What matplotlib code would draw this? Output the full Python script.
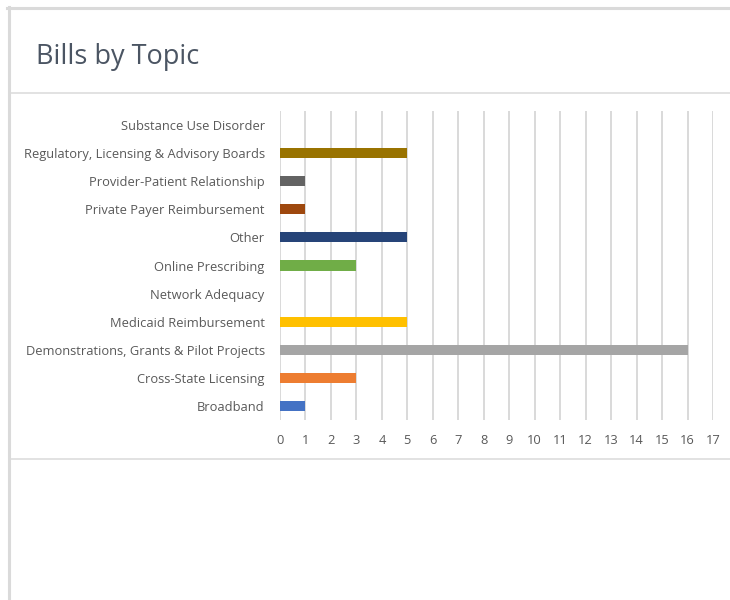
import matplotlib.pyplot as plt
from matplotlib.lines import Line2D

# data, bottom to top
topics = ['Broadband', 'Cross-State Licensing', 'Demonstrations, Grants & Pilot Projects',
          'Medicaid Reimbursement', 'Network Adequacy', 'Online Prescribing', 'Other',
          'Private Payer Reimbursement', 'Provider-Patient Relationship',
          'Regulatory, Licensing & Advisory Boards', 'Substance Use Disorder']
bills = [1, 3, 16, 5, 0, 3, 5, 1, 1, 5, 0]
colors = ['#4472C4', '#ED7D31', '#A5A5A5', '#FFC000', '#5B9BD5', '#70AD47', '#264478',
          '#9E480E', '#636363', '#997300', '#255E91']
xticks = list(range(0, 18))

plt.rcParams['font.family'] = ['Open Sans', 'DejaVu Sans']

fig = plt.figure(figsize=(7.3, 6), dpi=100)
fig.patch.set_facecolor('white')

# frame lines around the chart card
line_col = '#dadada'
fig.add_artist(Line2D([7/730, 1], [1 - 7.5/600] * 2, color=line_col, lw=2.2))
fig.add_artist(Line2D([8.5/730] * 2, [0, 1 - 6.5/600], color=line_col, lw=2.2))
fig.add_artist(Line2D([10/730, 1], [1 - 92.5/600] * 2, color=line_col, lw=1.1))
fig.add_artist(Line2D([10/730, 1], [1 - 459/600] * 2, color=line_col, lw=1.1))

fig.text(36/730, 1 - 57/600, 'Bills by Topic', fontsize=19.5, color='#4b5563',
         va='center', ha='left')

ax = fig.add_axes([280/730, 1 - 420/600, 433/730, 309/600])
ax.barh(range(len(topics)), bills, height=0.36, color=colors, zorder=3)
ax.set_xlim(0, 17)
ax.set_ylim(-0.5, 10.5)
ax.set_xticks(xticks)
ax.set_yticks(range(len(topics)))
ax.set_yticklabels(topics)
ax.grid(axis='x', color='#d9d9d9', lw=1.4, zorder=0)
ax.tick_params(length=0, labelsize=9.3, labelcolor='#595959')
ax.tick_params(axis='x', pad=10)
ax.tick_params(axis='y', pad=11)
for s in ax.spines.values():
    s.set_visible(False)

plt.savefig('out.png', dpi=100)
